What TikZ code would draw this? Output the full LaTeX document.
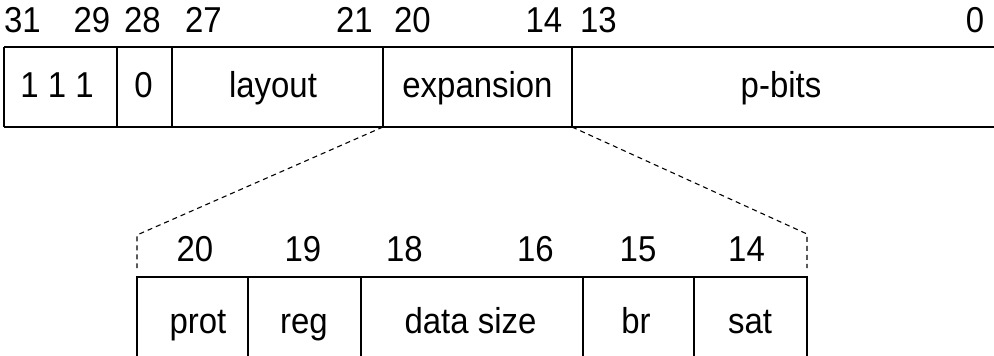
\documentclass[tikz,border=0pt]{standalone}
\usepackage{fontspec}
\setmainfont[FakeStretch=0.915]{Liberation Sans}
\begin{document}
\begin{tikzpicture}[x=1pt,y=-1pt,
  wire/.style={line width=1.6pt},
  dashwire/.style={line width=1.1pt, dash pattern=on 5pt off 4pt},
  txt/.style={anchor=base, inner sep=0pt, font=\fontsize{36}{42}\selectfont}]
\useasboundingbox (0,0) rectangle (994,356);
% top register corners
\coordinate (tl) at (4,47);   \coordinate (bl) at (4,127);
\coordinate (tr) at (994,47); \coordinate (br) at (994,127);
\foreach \n/\x in {a/117,b/172,c/383,d/572}{
  \coordinate (\n t) at (\x,47); \coordinate (\n b) at (\x,127);}
\draw[wire] (tl) -- (tr) (bl) -- (br) (tl) -- (bl)
  (at) -- (ab) (bt) -- (bb) (ct) -- (cb) (dt) -- (db);
% expanded register
\coordinate (xl) at (137,277); \coordinate (xr) at (807,277);
\coordinate (xlb) at (137,356); \coordinate (xrb) at (807,356);
\foreach \n/\x in {p/248,q/361,r/583,s/694}{
  \coordinate (\n t) at (\x,277); \coordinate (\n b) at (\x,356);}
\draw[wire] (xlb) -- (xl) -- (xr) -- (xrb)
  (pt) -- (pb) (qt) -- (qb) (rt) -- (rb) (st) -- (sb);
% zoom lines
\coordinate (kl) at (137,235); \coordinate (kle) at (137,268);
\coordinate (kr) at (807,234); \coordinate (kre) at (807,268);
\draw[dashwire] (cb) -- (kl) -- (kle);
\draw[dashwire] (db) -- (kr) -- (kre);
% top bit numbers
\foreach \x/\t in {22.5/31,92/29,142.5/28,203.5/27,354.5/21,412.5/20,544/14,598.5/13,975/0}
  \node[txt] (n\t) at (\x,32) {\t};
% top fields
\node[txt] (f1) at (57,97) {1 1 1};
\node[txt] (f2) at (143.5,97) {0};
\node[txt] (f3) at (273,97) {layout};
\node[txt] (f4) at (477.5,97) {expansion};
\node[txt] (f5) at (781,97) {p-bits};
% bottom bit numbers
\foreach \x/\t in {195/20,303/19,404.5/18,535.5/16,638/15,746.5/14}
  \node[txt] (m\t) at (\x,261) {\t};
% bottom fields
\node[txt] (g1) at (198,333) {prot};
\node[txt] (g2) at (304,333) {reg};
\node[txt] (g3) at (470.5,333) {data size};
\node[txt] (g4) at (636,333) {br};
\node[txt] (g5) at (750,333) {sat};
\end{tikzpicture}
\end{document}
